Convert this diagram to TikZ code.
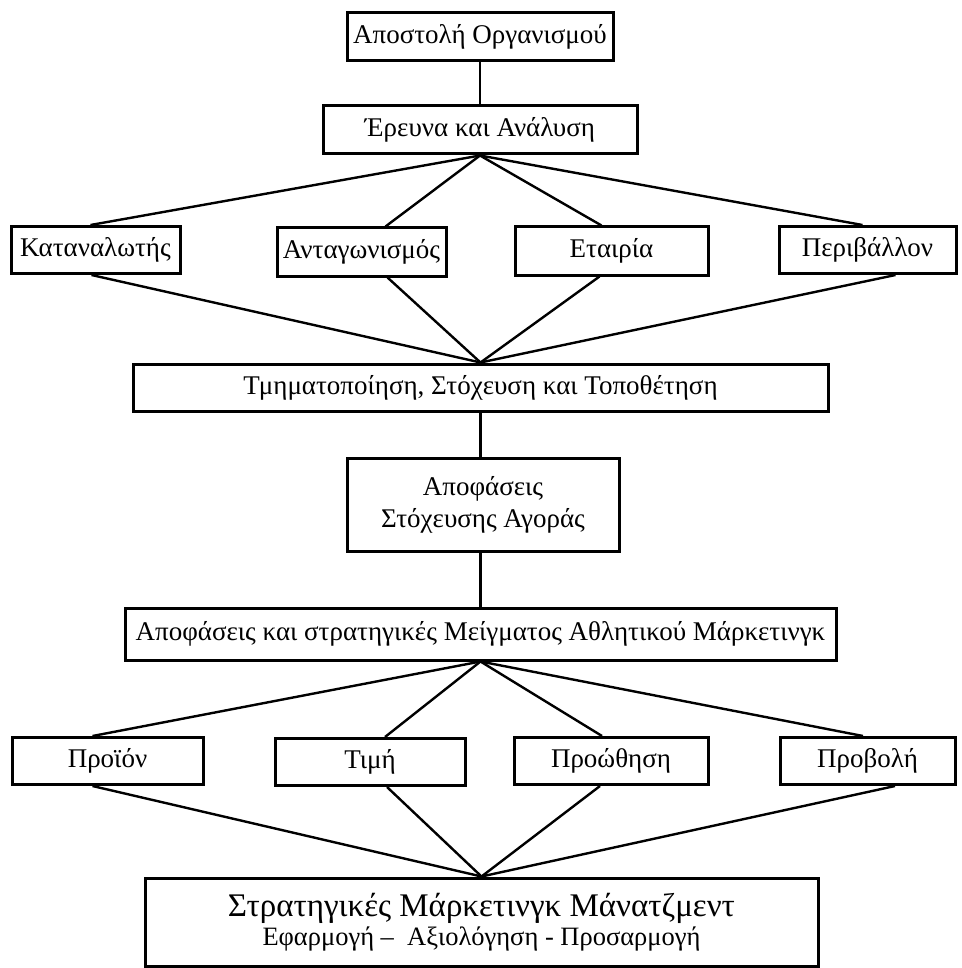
\documentclass[tikz,border=0pt]{standalone}
\usepackage{fontspec}
\setmainfont{Liberation Serif}
\usetikzlibrary{calc}
\tikzset{
  box/.style={draw=black, line width=3pt, fill=white, inner sep=0pt, align=center,
    font=\fontsize{27}{32}\selectfont},
  conn/.style={draw=black, line width=2.4pt},
}
\begin{document}
\begin{tikzpicture}[x=1pt,y=-1pt]
\useasboundingbox (0,0) rectangle (961,968);
\node[box, minimum width=266pt, minimum height=48pt] (b1) at (480,37) {Αποστολή Οργανισμού};
\node[box, minimum width=314pt, minimum height=48pt] (b2) at (480,130) {Έρευνα και Ανάλυση};
\node[box, minimum width=169pt, minimum height=47pt] (k) at (95.5,250) {Καταναλωτής};
\node[box, minimum width=169pt, minimum height=48pt] (a) at (361.5,252) {Ανταγωνισμός};
\node[box, minimum width=193pt, minimum height=48pt] (e) at (611.5,251) {Εταιρία};
\node[box, minimum width=177pt, minimum height=47pt] (p) at (867.5,250) {Περιβάλλον};
\node[box, minimum width=695pt, minimum height=47pt] (t) at (480.5,387.5) {Τμηματοποίηση, Στόχευση και Τοποθέτηση};
\node[box, minimum width=272pt, minimum height=93pt] (d) at (483,504.5) {Αποφάσεις\\Στόχευσης Αγοράς};
\node[box, minimum width=711pt, minimum height=52pt] (m) at (480.5,634) {Αποφάσεις και στρατηγικές Μείγματος Αθλητικού Μάρκετινγκ};
\node[box, minimum width=191pt, minimum height=47pt] (pr) at (107.5,761) {Προϊόν};
\node[box, minimum width=190pt, minimum height=47pt] (ti) at (370,762) {Τιμή};
\node[box, minimum width=194pt, minimum height=47pt] (pro) at (611,761) {Προώθηση};
\node[box, minimum width=175pt, minimum height=47pt] (pb) at (867.5,761) {Προβολή};
\node[box, minimum width=673pt, minimum height=88pt] (f) at (481.5,922)
  {{\fontsize{33}{37}\selectfont Στρατηγικές Μάρκετινγκ Μάνατζμεντ}\\[-3pt]
   {\fontsize{26.5}{30}\selectfont Εφαρμογή –\ \ Αξιολόγηση - Προσαρμογή}};
% connectors
\draw[conn] (b1.south) -- (b2.north);
\draw[conn] (b2.south) -- ([xshift=-5pt]k.north);
\draw[conn] (b2.south) -- ([xshift=24pt]a.north);
\draw[conn] (b2.south) -- ([xshift=-10pt]e.north);
\draw[conn] (b2.south) -- ([xshift=-5pt]p.north);
\draw[conn] ([xshift=-4pt]k.south) -- (t.north);
\draw[conn] ([xshift=26pt]a.south) -- (t.north);
\draw[conn] ([xshift=-12pt]e.south) -- (t.north);
\draw[conn] ([xshift=28pt]p.south) -- (t.north);
\draw[conn] (t.south) -- (t.south |- d.north);
\draw[conn] (t.south |- d.south) -- (m.north);
\draw[conn] (m.south) -- ([xshift=-15pt]pr.north);
\draw[conn] (m.south) -- ([xshift=15pt]ti.north);
\draw[conn] (m.south) -- ([xshift=-9pt]pro.north);
\draw[conn] (m.south) -- ([xshift=-4.5pt]pb.north);
\draw[conn] ([xshift=-15pt]pr.south) -- (f.north);
\draw[conn] ([xshift=17pt]ti.south) -- (f.north);
\draw[conn] ([xshift=-11pt]pro.south) -- (f.north);
\draw[conn] ([xshift=27.5pt]pb.south) -- (f.north);
\end{tikzpicture}
\end{document}
